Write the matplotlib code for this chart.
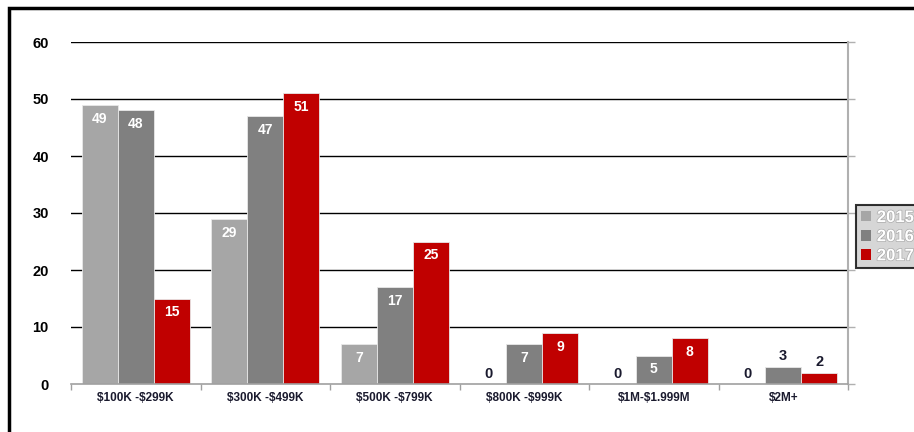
import matplotlib
matplotlib.use("Agg")
import matplotlib.pyplot as plt
import matplotlib.patheffects as pe
from matplotlib.patches import Rectangle, Patch
import numpy as np

categories = ["$100K -$299K", "$300K -$499K", "$500K -$799K", "$800K -$999K", "$1M-$1.999M", "$2M+"]
years = ["2015", "2016", "2017"]
v2015 = [49, 29, 7, 0, 0, 0]
v2016 = [48, 47, 17, 7, 5, 3]
v2017 = [15, 51, 25, 9, 8, 2]
colors = ["#a6a6a6", "#808080", "#c00000"]
yticks = [0, 10, 20, 30, 40, 50, 60]

plt.rcParams['font.family'] = ['Liberation Sans', 'DejaVu Sans']

W, H = 914, 432
fig = plt.figure(figsize=(W/100, H/100), dpi=100)
ax = fig.add_axes([71/W, 1-384/H, (848-71)/W, (384-42)/H])

# outer frame
fig.patches.append(Rectangle((9/W, -0.1), 1.2, 1-8/H+0.1, transform=fig.transFigure,
                             fill=False, edgecolor="black", linewidth=2.5, zorder=0))

x = np.arange(len(categories))
bw = 36/129.5
series = [v2015, v2016, v2017]
for i, (vals, c) in enumerate(zip(series, colors)):
    xs = x + (i-1)*bw
    ax.bar(xs, vals, width=bw, color=c, edgecolor="#e8e8e8", linewidth=0.6, zorder=3)
    for xi, v in zip(xs, vals):
        if v >= 5:
            ax.text(xi, v - 1.2, str(v), ha="center", va="top", color="white",
                    fontsize=10, fontweight="bold", zorder=4)
        else:
            ax.text(xi, v + 0.6, str(v), ha="center", va="bottom", color="#1a1a2e",
                    fontsize=10.5, fontweight="bold", zorder=4)

ax.set_xlim(-0.5, len(categories)-0.5)
ax.set_ylim(0, 60)
ax.set_yticks(yticks)
ax.set_yticklabels([str(t) for t in yticks], fontsize=10.5, fontweight="bold")
for t in yticks[1:]:
    ax.axhline(t, color="black", linewidth=1.0, zorder=1)
ax.tick_params(axis="y", length=0, pad=16)

ax.set_xticks(x)
ax.set_xticklabels([c.replace("$", r"\$") for c in categories], fontsize=8.5,
                   fontweight="bold", color="#1a1a2e")
ax.set_xticks(np.arange(-0.5, len(categories)), minor=True)
ax.tick_params(axis="x", which="major", length=0, pad=6)
ax.tick_params(axis="x", which="minor", length=4, color="#a0a0a0", width=1)

for s in ["left", "top"]:
    ax.spines[s].set_visible(False)
ax.spines["bottom"].set_color("#a0a0a0")
ax.spines["bottom"].set_linewidth(1.2)
ax.spines["bottom"].set_zorder(5)
ax.spines["right"].set_color("#b0b0b0")
ax.spines["right"].set_linewidth(1.5)

# right side outward ticks
ax2 = ax.twinx()
ax2.set_ylim(0, 60)
ax2.set_yticks(yticks)
ax2.set_yticklabels([])
ax2.tick_params(axis="y", length=5, color="#b0b0b0", width=1)
for s in ["left", "top", "bottom", "right"]:
    ax2.spines[s].set_visible(False)

handles = [Patch(facecolor=c, edgecolor="none") for c in colors]
leg = fig.legend(handles, years, loc="upper left", bbox_to_anchor=(856/W, 1-205/H),
                 frameon=True, fancybox=False, fontsize=12, handlelength=0.6, handleheight=0.6,
                 handletextpad=0.35, borderpad=0.3, labelspacing=0.25, borderaxespad=0)
leg.get_frame().set_facecolor("#cccccc")
leg.get_frame().set_edgecolor("black")
leg.get_frame().set_linewidth(1.5)
for t in leg.get_texts():
    t.set_color("white")
    t.set_fontweight("bold")
    t.set_path_effects([pe.withStroke(linewidth=1.0, foreground="#aaaaaa")])

fig.savefig("out.png", dpi=100)
